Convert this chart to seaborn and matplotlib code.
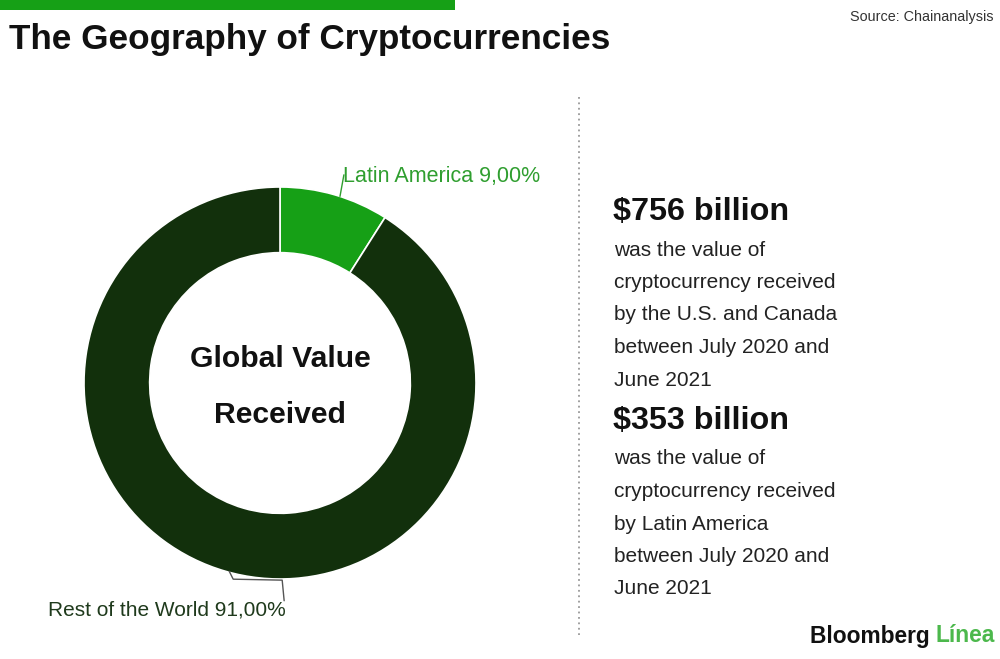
import numpy as np
import matplotlib
matplotlib.use("Agg")
import matplotlib.pyplot as plt
import seaborn as sns

# data
regions = ["Latin America", "Rest of the World"]
shares = [9.00, 91.00]
region_colors = ["#16a016", "#12300c"]
label_colors = ["#2f9e2f", "#1f3a1c"]
center_label = "Global Value\nReceived"
stats_values = ["$756 billion", "$353 billion"]
stats_texts = [
    ["was the value of", "cryptocurrency received", "by the U.S. and Canada",
     "between July 2020 and", "June 2021"],
    ["was the value of", "cryptocurrency received", "by Latin America",
     "between July 2020 and", "June 2021"],
]

sns.set_theme(style="white")
plt.rcParams["font.family"] = ["Liberation Sans", "DejaVu Sans"]

W, H = 1000, 659
fig = plt.figure(figsize=(W / 100, H / 100), dpi=100)
fig.patch.set_facecolor("white")


def fx(px):
    return px / W


def fy(py):
    return 1 - py / H


# green bar at the top
fig.add_artist(plt.Rectangle((0, fy(10)), fx(455), 10 / H, transform=fig.transFigure,
                             color="#16a016", lw=0))
fig.text(fx(9), fy(40), "The Geography of Cryptocurrencies", fontsize=25.3, fontweight="bold",
         color="#111111", va="center", ha="left")
fig.text(fx(993), fy(17), "Source: Chainanalysis", fontsize=10.4, color="#333333",
         va="center", ha="right")

# donut
cx, cy, r = 280, 383, 196
ax = fig.add_axes([fx(cx - r), fy(cy + r), 2 * r / W, 2 * r / H])
wedges, _ = ax.pie(shares, colors=region_colors, startangle=90, counterclock=False,
                   radius=1, wedgeprops=dict(width=0.335, edgecolor="white", linewidth=1.2))
ax.set_xlim(-1, 1)
ax.set_ylim(-1, 1)
ax.set_aspect("equal")
ax.axis("off")
ax.text(0, -0.02, center_label, ha="center", va="center", fontsize=21.7, fontweight="bold",
        color="#111111", linespacing=2.3)

# leader lines + labels
for i, (wdg, name, val) in enumerate(zip(wedges, regions, shares)):
    label = f"{name} {val:.2f}%".replace(".", ",")
    if i == 0:
        ang = np.deg2rad(wdg.theta1 + (wdg.theta2 - wdg.theta1) * 0.45)
        x0, y0 = np.cos(ang), np.sin(ang)
        ax.plot([x0, x0 + 0.02], [y0, y0 + 0.11], color=label_colors[i], lw=1, clip_on=False)
        ax.text(x0 + 0.015, y0 + 0.10, label, ha="left", va="center", fontsize=15.5,
                color=label_colors[i], clip_on=False)
    else:
        ang = np.deg2rad(-105)
        x0, y0 = np.cos(ang), np.sin(ang)
        xs = [x0, x0 + 0.02, x0 + 0.27, x0 + 0.28]
        ys = [y0 + 0.005, y0 - 0.035, y0 - 0.04, y0 - 0.145]
        ax.plot(xs, ys, color="#555555", lw=1, clip_on=False)
        ax.text(x0 + 0.29, y0 - 0.19, label, ha="right", va="center", fontsize=15,
                color=label_colors[i], clip_on=False)

# dotted separator
fig.add_artist(plt.Line2D([fx(579), fx(579)], [fy(97), fy(635)], transform=fig.transFigure,
                          color="#999999", lw=1.3, ls=(0, (1, 2))))

# right-hand stats
starts = [212, 421]
for top, head, lines in zip(starts, stats_values, stats_texts):
    fig.text(fx(613), fy(top), head, fontsize=23.3, fontweight="bold", color="#111111",
             va="center", ha="left")
    for k, line in enumerate(lines):
        fig.text(fx(614), fy(top + 38 + k * 32.5), line, fontsize=15, color="#222222",
                 va="center", ha="left")

# logo
linea = fig.text(fx(995), fy(636), "Línea", fontsize=16.4, fontweight="bold", color="#4cb84c",
                 va="center", ha="right")
bloom = fig.text(0, fy(636), "Bloomberg ", fontsize=16.4, fontweight="bold", color="#111111",
                 va="center", ha="right")
fig.canvas.draw()
bb = linea.get_window_extent()
bloom.set_position((bb.x0 / W, fy(636)))

fig.savefig("out.png", dpi=100, facecolor="white")
